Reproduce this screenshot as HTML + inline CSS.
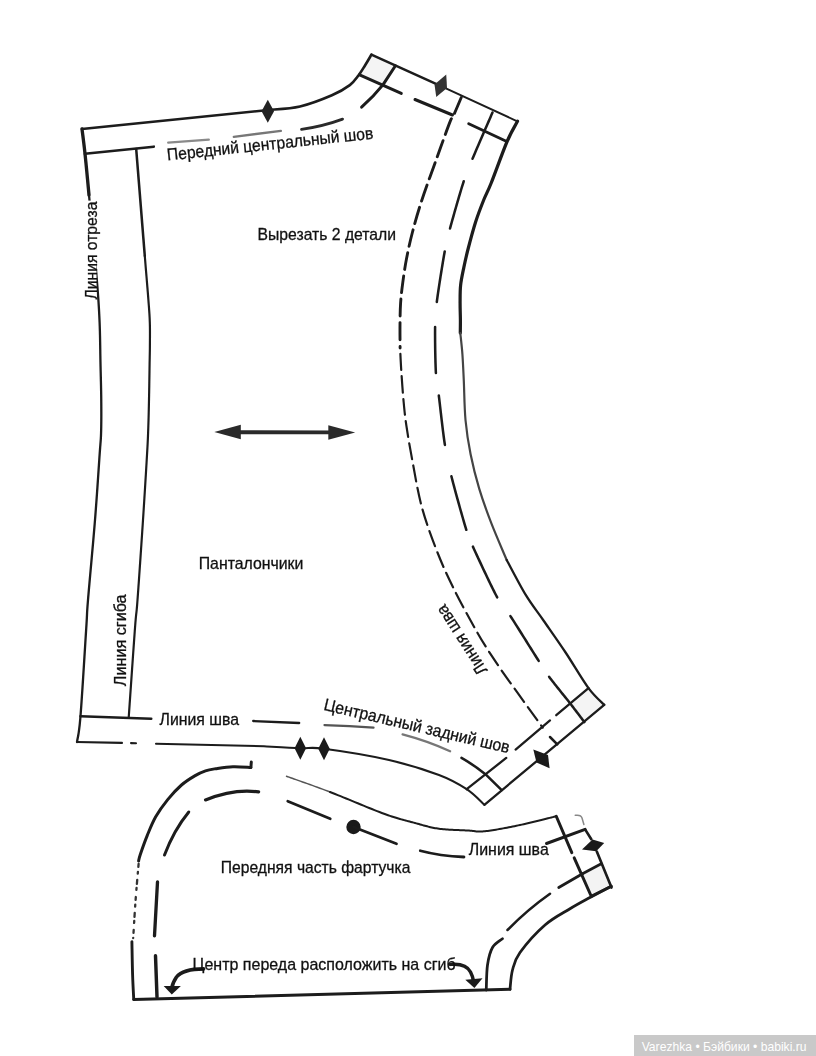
<!DOCTYPE html>
<html lang="ru">
<head>
<meta charset="utf-8">
<title>Выкройка: панталончики и фартучек</title>
<style>
html,body{margin:0;padding:0;background:#fff;}
body{width:816px;height:1056px;overflow:hidden;position:relative;font-family:"Liberation Sans",sans-serif;}
svg{position:absolute;left:0;top:0;display:block;will-change:transform;}
svg text{font-family:"Liberation Sans",sans-serif;}
.wm{position:absolute;left:634px;top:1035px;width:182px;height:21px;background:#c9c9c9;color:#fff;font-size:12.13px;line-height:21px;white-space:nowrap;}
.wm span{position:absolute;left:7.7px;top:1.6px;display:inline-block;transform-origin:0 50%;transform:scaleX(1.0);}
</style>
</head>
<body>
<svg width="816" height="1056" viewBox="0 0 816 1056">
<rect width="816" height="1056" fill="#ffffff"/>
<path d="M371.40,54.70 L395.40,65.70 L383.10,84.60 L359.60,74.80Z" fill="#f4f4f4" stroke="none" />
<path d="M588.50,688.10 L604.20,704.80 L584.40,722.10 L569.80,704.80Z" fill="#f4f4f4" stroke="none" />
<path d="M582.50,873.75 L601.25,863.75 L611.25,886.25 L591.25,896.25Z" fill="#f3f3f3" stroke="none" />
<path d="M82,129 L268.5,110  C273.75,109.42 289.43,108.95 300.00,106.50 C310.57,104.05 323.60,98.87 331.90,95.30 C340.20,91.73 345.35,88.43 349.80,85.10 C354.25,81.77 356.07,78.57 358.60,75.30 C361.13,72.03 362.87,68.93 365.00,65.50 C367.13,62.07 370.33,56.50 371.40,54.70" fill="none" stroke="#1c1c1c" stroke-width="2.64" stroke-linecap="round" stroke-linejoin="round" />
<path d="M371.40,54.70 L441.00,86.20" fill="none" stroke="#1c1c1c" stroke-width="2.42" stroke-linecap="round" stroke-linejoin="round" />
<path d="M441.00,86.20 L517.30,121.30" fill="none" stroke="#1c1c1c" stroke-width="1.95" stroke-linecap="round" stroke-linejoin="round" />
<path d="M517.50,121.25 C515.77,124.62 511.48,131.21 507.10,141.50 C502.72,151.79 495.10,173.25 491.20,183.00 C487.30,192.75 486.30,193.50 483.70,200.00 C481.10,206.50 478.18,213.92 475.60,222.00 C473.02,230.08 470.17,240.90 468.20,248.50 C466.23,256.10 465.07,261.47 463.80,267.60 C462.53,273.73 461.22,279.40 460.60,285.30 C459.98,291.20 460.13,297.22 460.10,303.00 C460.07,308.78 460.37,315.00 460.40,320.00 C460.43,325.00 460.32,330.83 460.30,333.00" fill="none" stroke="#1c1c1c" stroke-width="3.22" stroke-linecap="round" stroke-linejoin="round" />
<path d="M460.30,333.00 C460.65,336.52 461.82,346.17 462.40,354.10 C462.98,362.03 463.28,369.62 463.80,380.60 C464.32,391.58 464.37,407.72 465.50,420.00 C466.63,432.28 468.32,442.87 470.60,454.30 C472.88,465.73 475.77,477.17 479.20,488.60 C482.63,500.03 486.62,511.00 491.20,522.90 C495.78,534.80 504.12,553.82 506.70,560.00" fill="none" stroke="#444" stroke-width="2.18" stroke-linecap="round" stroke-linejoin="round" />
<path d="M506.70,560.00 C509.90,565.87 519.77,585.12 525.90,595.20 C532.03,605.28 536.88,610.95 543.50,620.50 C550.12,630.05 558.10,641.23 565.60,652.50 C573.10,663.77 582.07,679.38 588.50,688.10 C594.93,696.82 601.58,702.02 604.20,704.80" fill="none" stroke="#1c1c1c" stroke-width="2.3" stroke-linecap="round" stroke-linejoin="round" />
<path d="M604.20,704.80 L484.40,804.80" fill="none" stroke="#1c1c1c" stroke-width="2.3" stroke-linecap="round" stroke-linejoin="round" />
<path d="M77,742 L122,742.9 M131,743.1 L136,743.2 M156,743.7 L264,746.25  C270.00,746.58 290.00,747.83 300.00,748.25 C310.00,748.67 309.17,746.79 324.00,748.75 C338.83,750.71 369.83,755.62 389.00,760.00 C408.17,764.38 426.05,770.13 439.00,775.00 C451.95,779.87 459.13,784.23 466.70,789.20 C474.27,794.17 481.45,802.20 484.40,804.80" fill="none" stroke="#1c1c1c" stroke-width="2.07" stroke-linecap="round" stroke-linejoin="round" />
<path d="M82.00,129.00 L82.08,129.66 L82.17,130.40 L82.28,131.21 L82.39,132.10 L82.52,133.06 L82.65,134.09 L82.79,135.18 L82.94,136.33 L83.09,137.53 L83.25,138.80 L83.41,140.11 L83.58,141.47 L83.76,142.88 L83.93,144.33 L84.11,145.82 L84.29,147.35 L84.47,148.91 L84.65,150.50 L84.82,152.11 L85.00,153.75 L85.17,155.39 L85.34,157.03 L85.51,158.66 L85.68,160.31 L85.85,161.97 L86.02,163.66 L86.19,165.38 L86.36,167.15 L86.54,168.98 L86.72,170.86 L86.91,172.81 L87.10,174.85 L87.30,176.97 L87.51,179.18 L87.73,181.51 L87.96,183.94 L88.20,186.50 L88.45,189.19 L88.72,192.02 L89.00,195.00" fill="none" stroke="#1c1c1c" stroke-width="3.33" stroke-linecap="round" stroke-linejoin="round" />
<path d="M89.00,195.00 L89.30,198.20 L89.63,201.66 L89.98,205.35 L90.35,209.25 L90.73,213.32 L91.13,217.54 L91.55,221.88 L91.96,226.31 L92.39,230.80 L92.81,235.33 L93.24,239.85 L93.66,244.36 L94.07,248.80 L94.47,253.17 L94.86,257.42 L95.23,261.53 L95.59,265.47 L95.92,269.22 L96.22,272.74 L96.50,276.00 L96.75,279.03 L96.99,281.90 L97.21,284.60 L97.42,287.17 L97.61,289.60 L97.79,291.92 L97.96,294.14 L98.12,296.26 L98.27,298.32 L98.41,300.31 L98.54,302.26 L98.66,304.18 L98.78,306.07 L98.89,307.97 L99.00,309.87 L99.10,311.79 L99.20,313.75 L99.30,315.77 L99.40,317.84 L99.50,320.00 L99.60,322.21 L99.68,324.44 L99.76,326.68 L99.83,328.93 L99.90,331.19 L99.95,333.45 L100.01,335.72 L100.06,337.98 L100.10,340.25 L100.14,342.50 L100.18,344.74 L100.21,346.98 L100.25,349.19 L100.28,351.39 L100.31,353.56 L100.35,355.71 L100.38,357.83 L100.42,359.92 L100.46,361.98 L100.50,364.00 L100.54,365.99 L100.59,367.94 L100.63,369.87 L100.68,371.78 L100.73,373.66 L100.77,375.51 L100.82,377.35 L100.86,379.17 L100.90,380.97 L100.95,382.75 L100.99,384.52 L101.03,386.27 L101.06,388.01 L101.10,389.75 L101.13,391.47 L101.16,393.18 L101.19,394.89 L101.21,396.60 L101.23,398.30 L101.25,400.00 L101.26,401.70 L101.28,403.40 L101.29,405.10 L101.30,406.80 L101.31,408.49 L101.31,410.18 L101.32,411.85 L101.32,413.52 L101.32,415.17 L101.32,416.81 L101.31,418.44 L101.30,420.04 L101.29,421.62 L101.27,423.19 L101.25,424.73 L101.23,426.24 L101.20,427.73 L101.17,429.18 L101.14,430.61 L101.10,432.00 L101.06,433.30 L101.02,434.48 L100.98,435.54 L100.94,436.50 L100.89,437.40 L100.85,438.24 L100.80,439.04 L100.75,439.83 L100.69,440.62 L100.63,441.44 L100.56,442.29 L100.49,443.21 L100.41,444.20 L100.32,445.30 L100.22,446.51 L100.12,447.86 L100.01,449.36 L99.88,451.04 L99.75,452.91 L99.60,455.00 L99.44,457.28 L99.28,459.73 L99.10,462.33 L98.92,465.07 L98.72,467.95 L98.52,470.94 L98.31,474.05 L98.10,477.26 L97.87,480.56 L97.64,483.94 L97.41,487.39 L97.16,490.90 L96.91,494.47 L96.65,498.07 L96.39,501.71 L96.12,505.37 L95.85,509.04 L95.57,512.70 L95.29,516.36 L95.00,520.00 L94.70,523.72 L94.37,527.63 L94.03,531.68 L93.67,535.87 L93.30,540.16 L92.91,544.54 L92.52,548.96 L92.12,553.42 L91.72,557.87 L91.32,562.31 L90.93,566.70 L90.54,571.02 L90.16,575.25 L89.79,579.35 L89.44,583.30 L89.10,587.09 L88.79,590.67 L88.50,594.04 L88.23,597.16 L88.00,600.00 L87.80,602.50 L87.63,604.64 L87.49,606.44 L87.38,607.97 L87.29,609.25 L87.22,610.33 L87.16,611.26 L87.11,612.06 L87.08,612.80 L87.05,613.50 L87.02,614.21 L86.99,614.98 L86.95,615.83 L86.90,616.83 L86.85,618.00 L86.77,619.39 L86.68,621.05 L86.56,623.00 L86.42,625.31 L86.25,628.00 L86.05,631.12 L85.83,634.65 L85.58,638.54 L85.32,642.75 L85.04,647.23 L84.75,651.94 L84.44,656.83 L84.13,661.86 L83.81,666.97 L83.48,672.12 L83.16,677.28 L82.83,682.38 L82.51,687.40 L82.19,692.27 L81.87,696.95 L81.57,701.41 L81.28,705.59 L81.00,709.44 L80.74,712.93 L80.50,716.00 L80.27,718.73 L80.04,721.23 L79.82,723.51 L79.60,725.58 L79.38,727.47 L79.17,729.18 L78.97,730.72 L78.77,732.11 L78.58,733.37 L78.39,734.50 L78.21,735.52 L78.04,736.45 L77.88,737.29 L77.72,738.06 L77.58,738.78 L77.44,739.46 L77.31,740.10 L77.20,740.73 L77.09,741.36 L77.00,742.00" fill="none" stroke="#1c1c1c" stroke-width="2.3" stroke-linecap="round" stroke-linejoin="round" />
<path d="M85.00,153.75 L153.75,146.75" fill="none" stroke="#1c1c1c" stroke-width="2.76" stroke-linecap="round" stroke-linejoin="round" />
<path d="M136.20,149.00 L136.29,150.10 L136.39,151.33 L136.50,152.69 L136.62,154.18 L136.75,155.78 L136.88,157.50 L137.03,159.32 L137.19,161.25 L137.35,163.27 L137.52,165.38 L137.70,167.57 L137.88,169.83 L138.07,172.17 L138.26,174.57 L138.46,177.03 L138.66,179.54 L138.87,182.10 L139.07,184.70 L139.29,187.34 L139.50,190.00 L139.72,192.76 L139.96,195.69 L140.20,198.76 L140.46,201.95 L140.72,205.26 L141.00,208.66 L141.27,212.13 L141.56,215.66 L141.84,219.22 L142.13,222.81 L142.42,226.41 L142.71,229.98 L142.99,233.53 L143.27,237.03 L143.55,240.46 L143.82,243.81 L144.08,247.05 L144.33,250.18 L144.57,253.17 L144.80,256.00" fill="none" stroke="#1c1c1c" stroke-width="2.53" stroke-linecap="round" stroke-linejoin="round" />
<path d="M144.80,256.00 L145.02,258.72 L145.24,261.39 L145.45,264.00 L145.66,266.56 L145.87,269.06 L146.07,271.51 L146.27,273.90 L146.47,276.24 L146.66,278.52 L146.84,280.75 L147.02,282.92 L147.20,285.04 L147.37,287.10 L147.54,289.11 L147.69,291.06 L147.85,292.96 L148.00,294.80 L148.14,296.59 L148.27,298.32 L148.40,300.00 L148.52,301.60 L148.63,303.09 L148.74,304.48 L148.84,305.79 L148.94,307.02 L149.02,308.19 L149.10,309.29 L149.18,310.34 L149.25,311.34 L149.32,312.31 L149.38,313.26 L149.44,314.18 L149.49,315.10 L149.54,316.02 L149.59,316.95 L149.64,317.89 L149.68,318.86 L149.72,319.86 L149.76,320.90 L149.80,322.00 L149.83,323.13 L149.86,324.28 L149.89,325.43 L149.91,326.60 L149.93,327.77 L149.94,328.95 L149.95,330.14 L149.95,331.32 L149.96,332.50 L149.96,333.69 L149.95,334.87 L149.95,336.04 L149.95,337.21 L149.94,338.36 L149.93,339.51 L149.93,340.64 L149.92,341.76 L149.91,342.86 L149.91,343.94 L149.90,345.00 L149.89,346.02 L149.89,346.99 L149.88,347.90 L149.87,348.78 L149.86,349.63 L149.85,350.46 L149.84,351.27 L149.82,352.07 L149.81,352.88 L149.79,353.69 L149.78,354.52 L149.76,355.37 L149.74,356.25 L149.72,357.18 L149.71,358.15 L149.69,359.18 L149.67,360.27 L149.64,361.43 L149.62,362.67 L149.60,364.00 L149.58,365.42 L149.55,366.94 L149.53,368.54 L149.50,370.21 L149.48,371.95 L149.45,373.74 L149.42,375.58 L149.39,377.46 L149.36,379.38 L149.33,381.31 L149.30,383.26 L149.27,385.22 L149.24,387.17 L149.20,389.11 L149.17,391.02 L149.14,392.91 L149.10,394.76 L149.07,396.57 L149.03,398.32 L149.00,400.00 L148.96,401.64 L148.93,403.27 L148.89,404.87 L148.86,406.46 L148.82,408.04 L148.79,409.60 L148.75,411.14 L148.71,412.67 L148.68,414.19 L148.64,415.69 L148.60,417.17 L148.56,418.65 L148.52,420.11 L148.48,421.56 L148.43,422.99 L148.39,424.42 L148.34,425.83 L148.30,427.23 L148.25,428.62 L148.20,430.00 L148.15,431.32 L148.11,432.52 L148.07,433.64 L148.03,434.68 L147.99,435.66 L147.96,436.61 L147.92,437.53 L147.88,438.44 L147.84,439.36 L147.80,440.31 L147.75,441.31 L147.70,442.36 L147.64,443.49 L147.58,444.72 L147.51,446.05 L147.43,447.52 L147.34,449.13 L147.24,450.90 L147.12,452.85 L147.00,455.00 L146.86,457.33 L146.72,459.81 L146.57,462.44 L146.40,465.20 L146.23,468.09 L146.05,471.09 L145.87,474.20 L145.67,477.40 L145.47,480.69 L145.27,484.06 L145.06,487.50 L144.84,491.00 L144.62,494.55 L144.40,498.14 L144.17,501.76 L143.94,505.40 L143.71,509.05 L143.47,512.71 L143.24,516.36 L143.00,520.00 L142.76,523.72 L142.50,527.63 L142.23,531.68 L141.95,535.87 L141.66,540.16 L141.37,544.54 L141.07,548.96 L140.76,553.42 L140.46,557.87 L140.16,562.31 L139.85,566.70 L139.56,571.02 L139.26,575.25 L138.98,579.35 L138.70,583.30 L138.43,587.09 L138.18,590.67 L137.94,594.04 L137.71,597.16 L137.50,600.00 L137.31,602.50 L137.15,604.63 L137.00,606.43 L136.87,607.95 L136.75,609.23 L136.65,610.30 L136.55,611.22 L136.46,612.02 L136.38,612.74 L136.30,613.44 L136.21,614.14 L136.13,614.90 L136.03,615.76 L135.93,616.75 L135.82,617.93 L135.69,619.33 L135.55,620.99 L135.39,622.96 L135.21,625.29 L135.00,628.00 L134.76,631.18 L134.50,634.83 L134.21,638.90 L133.89,643.32 L133.55,648.05 L133.20,653.02 L132.84,658.18 L132.47,663.48 L132.09,668.85 L131.72,674.25 L131.35,679.61 L130.98,684.88 L130.62,690.00 L130.28,694.92 L129.96,699.58 L129.66,703.92 L129.38,707.89 L129.14,711.43 L128.93,714.49 L128.75,717.00" fill="none" stroke="#1c1c1c" stroke-width="2.18" stroke-linecap="round" stroke-linejoin="round" />
<path d="M80.50,716.25 L151.25,718.75" fill="none" stroke="#1c1c1c" stroke-width="2.53" stroke-linecap="round" stroke-linejoin="round" />
<path d="M168.20,142.60 L208.80,139.70" fill="none" stroke="#8a8a8a" stroke-width="2.3" stroke-linecap="round" stroke-linejoin="round" />
<path d="M233.80,136.80 L280.90,130.90" fill="none" stroke="#777" stroke-width="2.3" stroke-linecap="round" stroke-linejoin="round" />
<path d="M301.5,129.4 Q324,126 342.6,119.1" fill="none" stroke="#2a2a2a" stroke-width="2.76" stroke-linecap="round" stroke-linejoin="round" />
<path d="M361.6,107.2 Q374,96 383.1,84.6 L395.4,65.7" fill="none" stroke="#1c1c1c" stroke-width="2.99" stroke-linecap="round" stroke-linejoin="round" />
<path d="M359.60,74.80 L401.30,93.40" fill="none" stroke="#1c1c1c" stroke-width="2.99" stroke-linecap="round" stroke-linejoin="round" />
<path d="M415.00,99.50 L452.50,115.00" fill="none" stroke="#1c1c1c" stroke-width="2.99" stroke-linecap="round" stroke-linejoin="round" />
<path d="M468.75,123.75 L506.25,141.25" fill="none" stroke="#1c1c1c" stroke-width="2.99" stroke-linecap="round" stroke-linejoin="round" />
<path d="M492.50,112.50 L491.94,113.80 L491.26,115.36 L490.48,117.16 L489.60,119.17 L488.64,121.37 L487.62,123.72 L486.53,126.21 L485.40,128.81 L484.23,131.49 L483.05,134.22 L481.85,136.98 L480.65,139.74 L479.46,142.48 L478.30,145.16 L477.18,147.77 L476.10,150.28 L475.08,152.66 L474.13,154.88 L473.27,156.92 L472.50,158.75" fill="none" stroke="#1c1c1c" stroke-width="2.53" stroke-linecap="round" stroke-linejoin="round" />
<path d="M463.75,181.25 L463.17,183.08 L462.54,185.08 L461.88,187.23 L461.18,189.50 L460.47,191.89 L459.73,194.37 L458.97,196.92 L458.20,199.53 L457.43,202.18 L456.66,204.84 L455.89,207.51 L455.13,210.16 L454.39,212.77 L453.66,215.33 L452.96,217.81 L452.29,220.21 L451.65,222.49 L451.06,224.65 L450.50,226.66 L450.00,228.50" fill="none" stroke="#1c1c1c" stroke-width="2.53" stroke-linecap="round" stroke-linejoin="round" />
<path d="M444.70,251.50 L444.36,253.43 L443.99,255.55 L443.60,257.83 L443.19,260.25 L442.76,262.79 L442.33,265.43 L441.88,268.16 L441.43,270.94 L440.98,273.77 L440.52,276.62 L440.08,279.48 L439.64,282.32 L439.21,285.12 L438.80,287.86 L438.40,290.52 L438.02,293.09 L437.67,295.54 L437.35,297.86 L437.06,300.02 L436.80,302.00" fill="none" stroke="#1c1c1c" stroke-width="2.53" stroke-linecap="round" stroke-linejoin="round" />
<path d="M435.10,327.00 L435.08,328.85 L435.07,330.86 L435.06,332.99 L435.07,335.23 L435.08,337.57 L435.09,340.00 L435.11,342.48 L435.14,345.02 L435.17,347.58 L435.21,350.16 L435.26,352.73 L435.31,355.28 L435.37,357.80 L435.43,360.27 L435.49,362.66 L435.57,364.97 L435.64,367.17 L435.72,369.26 L435.81,371.21 L435.90,373.00" fill="none" stroke="#1c1c1c" stroke-width="2.53" stroke-linecap="round" stroke-linejoin="round" />
<path d="M438.80,395.50 L439.03,397.38 L439.28,399.43 L439.54,401.62 L439.81,403.95 L440.09,406.38 L440.38,408.91 L440.68,411.52 L440.99,414.19 L441.30,416.90 L441.62,419.64 L441.95,422.40 L442.28,425.14 L442.61,427.87 L442.94,430.56 L443.27,433.19 L443.60,435.74 L443.93,438.21 L444.26,440.57 L444.58,442.80 L444.90,444.90" fill="none" stroke="#1c1c1c" stroke-width="2.53" stroke-linecap="round" stroke-linejoin="round" />
<path d="M451.40,476.30 L451.97,478.52 L452.59,480.92 L453.26,483.48 L453.98,486.17 L454.73,488.98 L455.51,491.88 L456.32,494.85 L457.15,497.87 L458.00,500.91 L458.84,503.96 L459.69,506.99 L460.53,509.98 L461.36,512.91 L462.18,515.75 L462.96,518.49 L463.72,521.10 L464.43,523.55 L465.11,525.84 L465.73,527.93 L466.30,529.80" fill="none" stroke="#1c1c1c" stroke-width="2.53" stroke-linecap="round" stroke-linejoin="round" />
<path d="M472.90,546.60 L473.73,548.41 L474.66,550.45 L475.69,552.68 L476.80,555.10 L477.99,557.66 L479.24,560.35 L480.54,563.14 L481.88,566.01 L483.25,568.93 L484.64,571.88 L486.03,574.83 L487.43,577.76 L488.81,580.64 L490.17,583.45 L491.49,586.16 L492.77,588.75 L493.99,591.19 L495.14,593.47 L496.21,595.54 L497.20,597.40" fill="none" stroke="#1c1c1c" stroke-width="2.53" stroke-linecap="round" stroke-linejoin="round" />
<path d="M510.40,616.10 L511.50,617.79 L512.70,619.65 L514.00,621.68 L515.38,623.85 L516.83,626.14 L518.34,628.53 L519.90,631.00 L521.49,633.53 L523.10,636.09 L524.73,638.67 L526.34,641.25 L527.94,643.81 L529.52,646.32 L531.05,648.76 L532.53,651.12 L533.94,653.37 L535.28,655.50 L536.53,657.47 L537.67,659.28 L538.70,660.90" fill="none" stroke="#1c1c1c" stroke-width="2.53" stroke-linecap="round" stroke-linejoin="round" />
<path d="M549.10,676.80 L549.92,677.89 L550.79,679.05 L551.73,680.26 L552.71,681.53 L553.74,682.84 L554.80,684.18 L555.90,685.56 L557.02,686.96 L558.15,688.38 L559.30,689.81 L560.45,691.25 L561.60,692.68 L562.75,694.10 L563.88,695.50 L564.99,696.88 L566.07,698.23 L567.12,699.55 L568.13,700.82 L569.09,702.04 L570.00,703.20 L570.88,704.34 L571.77,705.48 L572.65,706.62 L573.53,707.76 L574.39,708.90 L575.25,710.02 L576.09,711.12 L576.92,712.21 L577.72,713.27 L578.51,714.30 L579.26,715.30 L579.99,716.26 L580.68,717.18 L581.34,718.06 L581.96,718.88 L582.55,719.65 L583.08,720.36 L583.57,721.01 L584.01,721.59 L584.40,722.10" fill="none" stroke="#1c1c1c" stroke-width="2.53" stroke-linecap="round" stroke-linejoin="round" />
<path d="M461.25,97.50 C460.00,100.42 455.66,110.85 453.75,115.00 C451.84,119.15 452.59,115.32 449.80,122.40 C447.01,129.48 441.65,144.57 437.00,157.50 C432.35,170.43 425.98,187.58 421.90,200.00 C417.82,212.42 415.07,222.20 412.50,232.00 C409.93,241.80 408.12,250.40 406.50,258.80 C404.88,267.20 403.78,275.03 402.80,282.40 C401.82,289.77 401.07,295.90 400.60,303.00 C400.13,310.10 400.08,317.50 400.00,325.00 C399.92,332.50 400.08,344.17 400.10,348.00" fill="none" stroke="#1c1c1c" stroke-width="2.88" stroke-linecap="round" stroke-linejoin="round" stroke-dasharray="17 6.5" stroke-linecap="butt"/>
<path d="M400.10,348.00 C400.30,351.83 400.73,362.27 401.30,371.00 C401.87,379.73 402.67,391.38 403.50,400.40 C404.33,409.42 404.83,415.12 406.30,425.10 C407.77,435.08 409.73,446.72 412.30,460.30 C414.87,473.88 417.70,491.73 421.70,506.60 C425.70,521.47 431.07,536.03 436.30,549.50 C441.53,562.97 446.25,573.53 453.10,587.40 C459.95,601.27 470.23,620.20 477.40,632.70 C484.57,645.20 489.48,652.48 496.10,662.40 C502.72,672.32 509.33,681.32 517.10,692.20 C524.87,703.08 538.43,721.78 542.70,727.70" fill="none" stroke="#1c1c1c" stroke-width="2.18" stroke-linecap="round" stroke-linejoin="round" stroke-dasharray="16 6.5" stroke-dashoffset="-6" stroke-linecap="butt"/>
<path d="M550.00,737.00 L557.30,744.40" fill="none" stroke="#1c1c1c" stroke-width="2.53" stroke-linecap="round" stroke-linejoin="round" />
<path d="M253.20,721.00 L299.20,723.00" fill="none" stroke="#1c1c1c" stroke-width="2.3" stroke-linecap="round" stroke-linejoin="round" />
<path d="M324.5,725.1 Q350,725.8 373.5,727.6" fill="none" stroke="#555" stroke-width="2.3" stroke-linecap="round" stroke-linejoin="round" />
<path d="M402.6,734.3 Q428,741 450.1,751.2" fill="none" stroke="#777" stroke-width="2.3" stroke-linecap="round" stroke-linejoin="round" />
<path d="M461.5,757.9 Q474,765 485.4,774.2 L501.7,790.2" fill="none" stroke="#1c1c1c" stroke-width="2.53" stroke-linecap="round" stroke-linejoin="round" />
<path d="M588.50,688.10 L556.25,715.20" fill="none" stroke="#1c1c1c" stroke-width="2.3" stroke-linecap="round" stroke-linejoin="round" />
<path d="M550.00,720.40 L515.60,749.60" fill="none" stroke="#1c1c1c" stroke-width="2.3" stroke-linecap="round" stroke-linejoin="round" />
<path d="M506.25,757.90 L466.70,789.20" fill="none" stroke="#1c1c1c" stroke-width="2.3" stroke-linecap="round" stroke-linejoin="round" />
<path d="M267.80,99.80 L274.05,111.30 L267.80,122.80 L261.55,111.30Z" fill="#222" stroke="none" />
<path d="M300.30,736.80 L306.05,748.30 L300.30,759.80 L294.55,748.30Z" fill="#1a1a1a" stroke="none" />
<path d="M324.00,737.30 L329.75,748.80 L324.00,760.30 L318.25,748.80Z" fill="#1a1a1a" stroke="none" />
<path d="M434.50,84.50 L446.25,74.50 L447.00,88.00 L436.25,97.00Z" fill="#333" stroke="none" />
<path d="M533.30,749.60 L548.00,755.00 L549.60,768.30 L536.50,762.50Z" fill="#1a1a1a" stroke="none" />
<path d="M236.00,432.20 L334.00,432.40" fill="none" stroke="#2a2a2a" stroke-width="3.91" stroke-linecap="round" stroke-linejoin="round" stroke-linecap="butt"/>
<path d="M214.30,432.00 L240.80,424.80 L240.80,439.20Z" fill="#2a2a2a" stroke="none" />
<path d="M355.20,432.60 L328.30,425.20 L328.30,439.80Z" fill="#2a2a2a" stroke="none" />
<path d="M250.90,767.40 C247.90,767.28 238.75,766.48 232.90,766.70 C227.05,766.92 220.37,768.02 215.80,768.70 C211.23,769.38 208.93,769.65 205.50,770.80 C202.07,771.95 199.20,773.23 195.20,775.60 C191.20,777.97 186.08,781.00 181.50,785.00 C176.92,789.00 172.00,794.30 167.70,799.60 C163.40,804.90 159.12,810.80 155.70,816.80 C152.28,822.80 149.77,829.32 147.20,835.60 C144.63,841.88 141.73,850.27 140.30,854.50 C138.87,858.73 138.88,859.92 138.60,861.00" fill="none" stroke="#1c1c1c" stroke-width="2.99" stroke-linecap="round" stroke-linejoin="round" />
<path d="M250.90,767.40 L251.30,762.00" fill="none" stroke="#1c1c1c" stroke-width="2.99" stroke-linecap="round" stroke-linejoin="round" />
<path d="M138.60,864.00 C138.10,870.00 136.50,887.67 135.60,900.00 C134.70,912.33 133.60,931.67 133.20,938.00" fill="none" stroke="#333" stroke-width="2.3" stroke-linecap="round" stroke-linejoin="round" stroke-dasharray="3 5 2 6 4 4 2 7" stroke-linecap="butt"/>
<path d="M131.90,941.60 C132.02,947.17 132.29,965.35 132.60,975.00 C132.91,984.65 133.56,995.42 133.75,999.50" fill="none" stroke="#1c1c1c" stroke-width="2.88" stroke-linecap="round" stroke-linejoin="round" />
<path d="M133.75,999.50 L510.00,989.25" fill="none" stroke="#1c1c1c" stroke-width="2.99" stroke-linecap="round" stroke-linejoin="round" />
<path d="M286.50,776.25 L287.68,776.68 L289.04,777.16 L290.57,777.70 L292.25,778.30 L294.07,778.94 L296.02,779.63 L298.09,780.36 L300.26,781.13 L302.53,781.93 L304.88,782.77 L307.29,783.63 L309.76,784.51 L312.27,785.42 L314.81,786.34 L317.37,787.27 L319.93,788.21 L322.49,789.16 L325.03,790.11 L327.54,791.06 L330.00,792.00" fill="none" stroke="#555" stroke-width="1.49" stroke-linecap="round" stroke-linejoin="round" />
<path d="M330.00,792.00 L332.49,792.97 L335.08,793.99 L337.75,795.06 L340.50,796.17 L343.30,797.31 L346.15,798.48 L349.04,799.67 L351.95,800.87 L354.87,802.08 L357.78,803.28 L360.68,804.48 L363.55,805.66 L366.38,806.82 L369.16,807.95 L371.87,809.05 L374.50,810.10 L377.05,811.11 L379.48,812.05 L381.81,812.94 L384.00,813.75 L386.08,814.50 L388.06,815.20 L389.96,815.85 L391.78,816.46 L393.53,817.02 L395.21,817.55 L396.83,818.05 L398.39,818.52 L399.91,818.96 L401.38,819.38 L402.81,819.77 L404.21,820.15 L405.58,820.52 L406.94,820.88 L408.28,821.23 L409.62,821.57 L410.95,821.92 L412.29,822.27 L413.64,822.63 L415.00,823.00 L416.35,823.37 L417.66,823.73 L418.93,824.09 L420.17,824.44 L421.38,824.78 L422.56,825.11 L423.72,825.43 L424.86,825.74 L426.00,826.05 L427.12,826.34 L428.25,826.63 L429.38,826.91 L430.51,827.17 L431.65,827.43 L432.81,827.68 L433.99,827.91 L435.20,828.14 L436.43,828.35 L437.70,828.56 L439.00,828.75 L440.35,828.93 L441.75,829.09 L443.19,829.24 L444.67,829.37 L446.18,829.49 L447.71,829.60 L449.26,829.70 L450.82,829.79 L452.38,829.87 L453.94,829.94 L455.49,830.00 L457.02,830.06 L458.54,830.12 L460.02,830.17 L461.48,830.23 L462.89,830.28 L464.25,830.33 L465.56,830.38 L466.81,830.44 L468.00,830.50 L469.10,830.57 L470.11,830.65 L471.03,830.73 L471.88,830.83 L472.67,830.92 L473.41,831.02 L474.12,831.12 L474.80,831.21 L475.46,831.30 L476.12,831.38 L476.79,831.44 L477.48,831.50 L478.20,831.54 L478.95,831.57 L479.77,831.58 L480.64,831.56 L481.59,831.53 L482.62,831.46 L483.76,831.37 L485.00,831.25 L486.34,831.10 L487.77,830.92 L489.26,830.72 L490.83,830.49 L492.46,830.24 L494.14,829.97 L495.87,829.68 L497.64,829.37 L499.46,829.05 L501.30,828.72 L503.16,828.37 L505.05,828.02 L506.94,827.65 L508.84,827.28 L510.74,826.90 L512.63,826.52 L514.51,826.14 L516.37,825.76 L518.20,825.38 L520.00,825.00 L521.83,824.61 L523.74,824.19 L525.72,823.74 L527.75,823.27 L529.82,822.78 L531.92,822.28 L534.04,821.77 L536.15,821.26 L538.25,820.75 L540.31,820.23 L542.34,819.73 L544.30,819.24 L546.19,818.77 L548.00,818.31 L549.71,817.88 L551.30,817.48 L552.76,817.11 L554.09,816.78 L555.25,816.49 L556.25,816.25" fill="none" stroke="#1c1c1c" stroke-width="2.01" stroke-linecap="round" stroke-linejoin="round" />
<path d="M556.25,816.25 L571.80,852.60" fill="none" stroke="#1c1c1c" stroke-width="2.99" stroke-linecap="round" stroke-linejoin="round" />
<path d="M574.20,857.80 L591.25,896.25" fill="none" stroke="#1c1c1c" stroke-width="2.99" stroke-linecap="round" stroke-linejoin="round" />
<path d="M596.80,851.50 L611.50,887.60" fill="none" stroke="#1c1c1c" stroke-width="2.64" stroke-linecap="round" stroke-linejoin="round" />
<path d="M585.1,829.4 L591.3,839.2" fill="none" stroke="#1c1c1c" stroke-width="2.64" stroke-linecap="round" stroke-linejoin="round" />
<path d="M575.3,815.3 Q581,814.5 582,818 L583.9,824.5" fill="none" stroke="#888" stroke-width="1.49" stroke-linecap="round" stroke-linejoin="round" />
<path d="M546.50,843.50 L585.10,829.40" fill="none" stroke="#1c1c1c" stroke-width="2.99" stroke-linecap="round" stroke-linejoin="round" />
<path d="M582.50,873.75 L601.25,863.75" fill="none" stroke="#1c1c1c" stroke-width="2.76" stroke-linecap="round" stroke-linejoin="round" />
<path d="M611.25,886.25 L591.25,896.25" fill="none" stroke="#1c1c1c" stroke-width="2.76" stroke-linecap="round" stroke-linejoin="round" />
<path d="M611.25,886.25 C607.71,888.12 596.88,893.75 590.00,897.50 C583.12,901.25 577.50,904.17 570.00,908.75 C562.50,913.33 553.33,917.71 545.00,925.00 C536.67,932.29 525.42,945.00 520.00,952.50 C514.58,960.00 514.17,963.88 512.50,970.00 C510.83,976.12 510.42,986.04 510.00,989.25" fill="none" stroke="#1c1c1c" stroke-width="2.76" stroke-linecap="round" stroke-linejoin="round" />
<path d="M486.25,990.00 C486.46,985.83 486.46,972.08 487.50,965.00 C488.54,957.92 490.00,951.88 492.50,947.50 C495.00,943.12 500.83,940.21 502.50,938.75" fill="none" stroke="#1c1c1c" stroke-width="2.76" stroke-linecap="round" stroke-linejoin="round" />
<path d="M507.5,930 Q527,910 550,893.75" fill="none" stroke="#1c1c1c" stroke-width="2.53" stroke-linecap="round" stroke-linejoin="round" />
<path d="M558.75,887.50 L582.50,873.75" fill="none" stroke="#1c1c1c" stroke-width="2.76" stroke-linecap="round" stroke-linejoin="round" />
<path d="M205.5,800 C222,793.2 240,789.3 258.7,791.9" fill="none" stroke="#1c1c1c" stroke-width="3.1" stroke-linecap="round" stroke-linejoin="round" />
<path d="M188.75,812 Q174,830 164.5,855" fill="none" stroke="#1c1c1c" stroke-width="2.99" stroke-linecap="round" stroke-linejoin="round" />
<path d="M157.50,882.00 L154.50,935.75" fill="none" stroke="#1c1c1c" stroke-width="3.33" stroke-linecap="round" stroke-linejoin="round" />
<path d="M155.50,955.75 L157.00,997.00" fill="none" stroke="#1c1c1c" stroke-width="3.45" stroke-linecap="round" stroke-linejoin="round" />
<path d="M287.75,801.25 L330.25,818.75" fill="none" stroke="#1c1c1c" stroke-width="2.76" stroke-linecap="round" stroke-linejoin="round" />
<circle cx="353.5" cy="827" r="7.2" fill="#1a1a1a"/>
<path d="M353.50,827.00 L396.50,843.75" fill="none" stroke="#1c1c1c" stroke-width="2.76" stroke-linecap="round" stroke-linejoin="round" />
<path d="M420.25,850.75 Q440,856 464,857" fill="none" stroke="#1c1c1c" stroke-width="2.76" stroke-linecap="round" stroke-linejoin="round" />
<path d="M582.00,849.60 L592.50,839.60 L604.20,842.90 L596.20,851.20Z" fill="#1a1a1a" stroke="none" />
<path d="M203.6,968.9 Q183,969 176.5,977 Q172.5,983 171.8,988" fill="none" stroke="#1c1c1c" stroke-width="3.56" stroke-linecap="round" stroke-linejoin="round" />
<path d="M163.70,985.90 L180.90,985.90 L171.80,994.60Z" fill="#1a1a1a" stroke="none" />
<path d="M450.3,964.4 Q466,963 470.5,972 Q473,977 473.5,981" fill="none" stroke="#1c1c1c" stroke-width="3.45" stroke-linecap="round" stroke-linejoin="round" />
<path d="M465.30,979.80 L482.50,978.30 L474.40,988.00Z" fill="#1a1a1a" stroke="none" />
<g transform="translate(167.6,160.6) rotate(-6.1)"><text x="0" y="0" font-size="17" textLength="207.3" lengthAdjust="spacingAndGlyphs" fill="#111" stroke="#111" stroke-width="0.3">Передний центральный шов</text></g>
<g transform="translate(257.5,240) rotate(0)"><text x="0" y="0" font-size="17" textLength="138.5" lengthAdjust="spacingAndGlyphs" fill="#111" stroke="#111" stroke-width="0.3">Вырезать 2 детали</text></g>
<g transform="translate(96.5,299.6) rotate(-90)"><rect x="-1" y="-13.6" width="100" height="13.6" fill="#fff"/><text x="0" y="0" font-size="17" textLength="98" lengthAdjust="spacingAndGlyphs" fill="#111" stroke="#111" stroke-width="0.3">Линия отреза</text></g>
<g transform="translate(126.1,686.2) rotate(-90)"><text x="0" y="0" font-size="17" textLength="91.8" lengthAdjust="spacingAndGlyphs" fill="#111" stroke="#111" stroke-width="0.3">Линия сгиба</text></g>
<g transform="translate(198.7,569) rotate(0)"><text x="0" y="0" font-size="17" textLength="104.7" lengthAdjust="spacingAndGlyphs" fill="#111" stroke="#111" stroke-width="0.3">Панталончики</text></g>
<g transform="translate(159.5,724.6) rotate(0)"><text x="0" y="0" font-size="17" textLength="79.6" lengthAdjust="spacingAndGlyphs" fill="#111" stroke="#111" stroke-width="0.3">Линия шва</text></g>
<g transform="translate(323,709.8) rotate(13.2)"><text x="0" y="0" font-size="17" textLength="190.3" lengthAdjust="spacingAndGlyphs" fill="#111" stroke="#111" stroke-width="0.3">Центральный задний шов</text></g>
<g transform="translate(488,670.5) rotate(-122.7)"><text x="0" y="0" font-size="17" textLength="79.6" lengthAdjust="spacingAndGlyphs" fill="#111" stroke="#111" stroke-width="0.3">Линия шва</text></g>
<g transform="translate(220.8,872.8) rotate(0)"><text x="0" y="0" font-size="17" textLength="189.6" lengthAdjust="spacingAndGlyphs" fill="#111" stroke="#111" stroke-width="0.3">Передняя часть фартучка</text></g>
<g transform="translate(468.75,855) rotate(0)"><text x="0" y="0" font-size="17" textLength="80" lengthAdjust="spacingAndGlyphs" fill="#111" stroke="#111" stroke-width="0.3">Линия шва</text></g>
<g transform="translate(192.6,970.2) rotate(0)"><text x="0" y="0" font-size="17" textLength="263" lengthAdjust="spacingAndGlyphs" fill="#111" stroke="#111" stroke-width="0.3">Центр переда расположить на сгиб</text></g>
</svg>
<div class="wm"><span>Varezhka • Бэйбики • babiki.ru</span></div>
</body>
</html>
